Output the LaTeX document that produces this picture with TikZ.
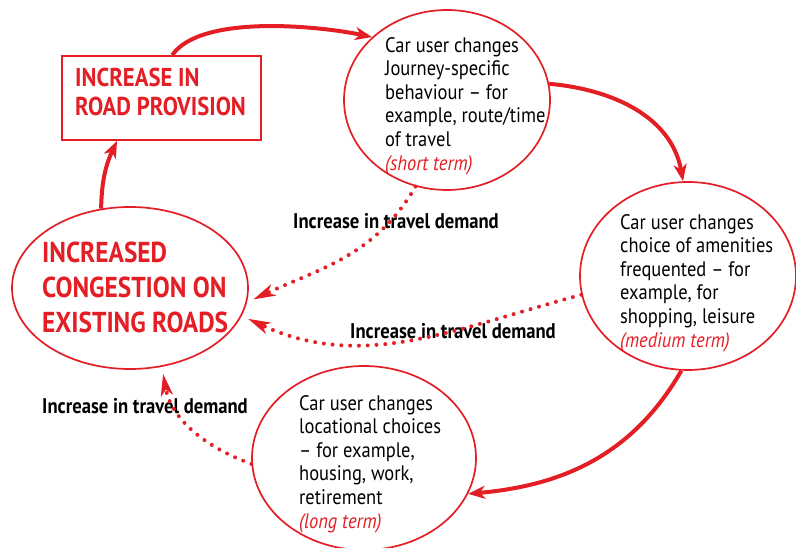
\documentclass[tikz,border=0pt]{standalone}
\usepackage{fontspec}
\setmainfont{PT Sans}[FakeStretch=0.88]
\usetikzlibrary{arrows.meta,shapes.geometric}
\definecolor{roadred}{HTML}{E31E24}

\begin{document}
\begin{tikzpicture}[x=1pt,y=1pt,
  bubble/.style={draw=roadred,line width=1.7pt,ellipse,inner sep=0pt},
  flow/.style={draw=roadred,line width=4pt,-{Stealth[length=17pt,width=13pt,inset=5pt]}},
  demand/.style={draw=roadred,line width=4pt,line cap=round,dash pattern=on 0pt off 8.8pt,
    -{Stealth[length=22pt,width=12pt,inset=6pt]},shorten >=7pt},
  note/.style={align=left,anchor=north west,inner sep=0pt,font=\fontsize{21}{23.6}\selectfont},
  heading/.style={align=left,anchor=north west,inner sep=0pt,text=roadred},
  demandlabel/.style={inner sep=0pt,font=\fontsize{21.2}{23}\selectfont\bfseries}]
\useasboundingbox (0,0) rectangle (796,548);
\node[draw=roadred,line width=1.8pt,minimum width=199pt,minimum height=84pt](road)at(161.5,450){};
\node[bubble,minimum width=206pt,minimum height=180pt](short)at(447,448){};
\node[bubble,minimum width=216pt,minimum height=188pt](medium)at(688,272){};
\node[bubble,minimum width=224pt,minimum height=184pt](long)at(364,90){};
\node[bubble,minimum width=236pt,minimum height=162pt](jam)at(130,260){};
\node[heading,font=\fontsize{25.8}{29}\selectfont\bfseries]at(75,480){INCREASE IN\\ROAD PROVISION};
\node[heading,font=\fontsize{28.8}{35}\selectfont\bfseries]at(42,306){INCREASED\\CONGESTION ON\\EXISTING ROADS};
\node[note]at(385,511){Car user changes\\Journey-specific\\behaviour -- for\\example, route/time\\of travel\\\textcolor{roadred}{\itshape(short term)}};
\node[note]at(620,334){Car user changes\\choice of amenities\\frequented -- for\\example, for\\shopping, leisure\\\textcolor{roadred}{\itshape(medium term)}};
\node[note]at(299,153){Car user changes\\locational choices\\-- for example,\\housing, work,\\retirement\\\textcolor{roadred}{\itshape(long term)}};
\node[demandlabel](demA)at(396,327){Increase in travel demand};
\node[demandlabel](demB)at(453,217){Increase in travel demand};
\node[demandlabel](demC)at(145,142){Increase in travel demand};
\draw[flow](jam.110)to[bend left=12](road.-136);
\draw[flow](road.76)to[out=55,in=168,looseness=0.65](short.140);
\draw[flow](short.9)to[out=-5,in=100](medium.93);
\draw[flow](medium.-94)to[out=-120,in=5](long.-19);
\draw[demand](short.-110)to[out=-120,in=25](jam.-7);
\draw[demand](medium.190)to[out=195,in=-25](jam.-14);
\draw[demand](long.183)to[out=160,in=-80](jam.-68);
\end{tikzpicture}
\end{document}
